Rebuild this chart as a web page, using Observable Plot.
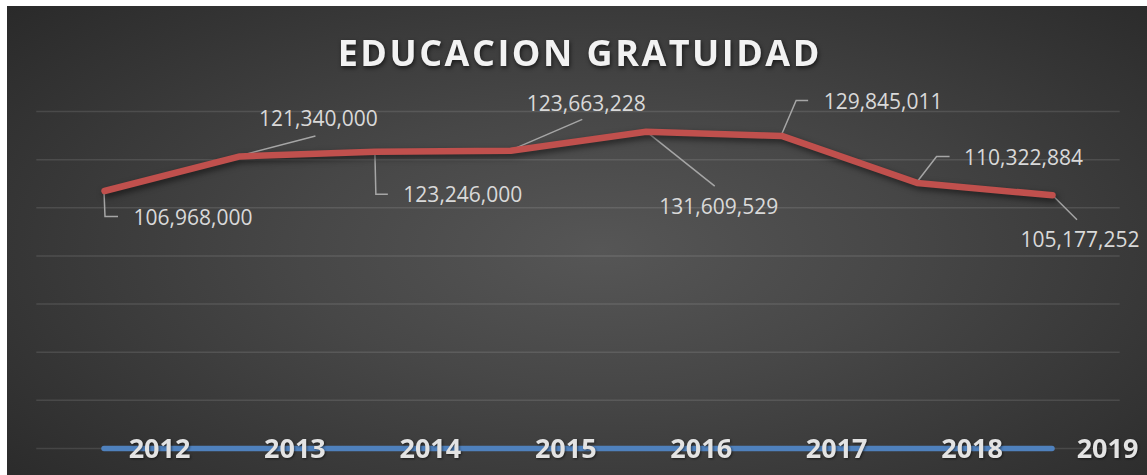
<!DOCTYPE html>
<html>
<head>
<meta charset="utf-8">
<script src="https://cdn.jsdelivr.net/npm/d3@7"></script>
<script src="https://cdn.jsdelivr.net/npm/@observablehq/plot@0.6"></script>
<style>
  html, body { margin: 0; padding: 0; background: #ffffff; }
  #chart { position: absolute; left: 7px; top: 6px; width: 1140px; height: 469px; overflow: hidden; }
</style>
</head>
<body>
<div id="chart"></div>
<script>
// ---- data ----
const title = "EDUCACION GRATUIDAD";
const years = [2012, 2013, 2014, 2015, 2016, 2017, 2018, 2019];
const values = [106968000, 121340000, 123246000, 123663228, 131609529, 129845011, 110322884, 105177252];
const gridTicks = [20e6, 40e6, 60e6, 80e6, 100e6, 120e6, 140e6];

// ---- layout of the data labels (pixel offsets from each point) ----
const labelOffsets = [[29, 27], [19, -37], [28, 43], [16, -47], [13, 76], [42, -34], [47, -25], [-32, 45]];
const leaderOffsets = [
  [[0, 1], [1, 26], [14, 26]],
  [[0, 0], [76, -20]],
  [[0, 0], [1, 43], [13, 43]],
  [[0, 0], [72, -31]],
  [[0, 0], [69, 55]],
  [[0, 0], [15, -35], [27, -35]],
  [[0, 0], [20, -26], [33, -26]],
  [[0, 0], [25, 25]]
];

const rows = years.map((year, i) => ({year, value: values[i], label: d3.format(",")(values[i])}));

const labelMarks = rows.map((d, i) => Plot.text([d], {
  x: "year", y: "value", text: "label",
  dx: labelOffsets[i][0], dy: labelOffsets[i][1],
  textAnchor: "start", lineAnchor: "middle",
  fill: "#d9d9d9", fontSize: 21, fontFamily: "Open Sans"
}));

const leaders = (index, scales) => {
  const g = d3.create("svg:g").attr("class", "leaders");
  rows.forEach((d, i) => {
    const px = scales.x(d.year), py = scales.y(d.value);
    const pts = leaderOffsets[i].map(([ox, oy]) => [px + ox, py + oy]);
    g.append("path")
      .attr("d", d3.line()(pts))
      .attr("fill", "none")
      .attr("stroke", "#a6a6a6")
      .attr("stroke-width", 1.5);
  });
  return g.node();
};

const yearMark = Plot.text(years, {
  x: d => d, y: () => 0, text: d => String(d), dx: 55, dy: 1,
  fontSize: 27, fontWeight: "bold", fill: "#e3e3e3", fontFamily: "Open Sans",
  textAnchor: "middle", lineAnchor: "middle"
});

const titleMark = Plot.text([title], {
  frameAnchor: "top", dy: -57, dx: 1.25, text: d => d,
  fontSize: 36, fontWeight: "bold", fill: "#f2f2f2", fontFamily: "Open Sans",
  lineAnchor: "middle"
});

const chart = Plot.plot({
  width: 1140,
  height: 469,
  marginLeft: 97,
  marginRight: 95,
  marginTop: 105,
  marginBottom: 27,
  x: {type: "linear", domain: [2012, 2019], axis: null},
  y: {domain: [0, 140e6], axis: null},
  style: {
    background: "radial-gradient(ellipse 75% 85% at 52% 52%, #565656 0%, #474747 35%, #353535 70%, #262626 100%)",
    color: "#e6e6e6",
    fontFamily: "Open Sans"
  },
  marks: [
    Plot.ruleY(gridTicks, {x1: 2011.5, x2: 2019.5, stroke: "#ffffff", strokeOpacity: 0.11, strokeWidth: 1.5}),
    Plot.ruleY([0], {x1: 2011.5, x2: 2019.5, stroke: "#ffffff", strokeOpacity: 0.11, strokeWidth: 1.5}),
    Plot.ruleY([0], {x1: years[0], x2: years[years.length - 1], stroke: "#4f81bd", strokeWidth: 5.5, strokeLinecap: "round"}),
    yearMark,
    leaders,
    Plot.line(rows, {
      x: "year", y: "value", stroke: "#c0504d", strokeWidth: 6.5,
      strokeLinejoin: "round", strokeLinecap: "round"
    }),
    ...labelMarks,
    titleMark
  ]
});

// post-render styling: shadows and letter spacing
const svg = d3.select(chart);
svg.selectAll('g[aria-label="line"] path').style("filter", "drop-shadow(2px 3px 3px rgba(0,0,0,0.55))");
const textGroups = svg.selectAll('g[aria-label="text"]').nodes();
d3.select(textGroups[0]).selectAll("text").style("filter", "drop-shadow(1px 1px 1px rgba(0,0,0,0.5))");
d3.select(textGroups[textGroups.length - 1]).selectAll("text")
  .style("letter-spacing", "2.5px")
  .style("filter", "drop-shadow(1px 2px 2px rgba(0,0,0,0.6))");

document.getElementById("chart").appendChild(chart);
</script>
</body>
</html>
